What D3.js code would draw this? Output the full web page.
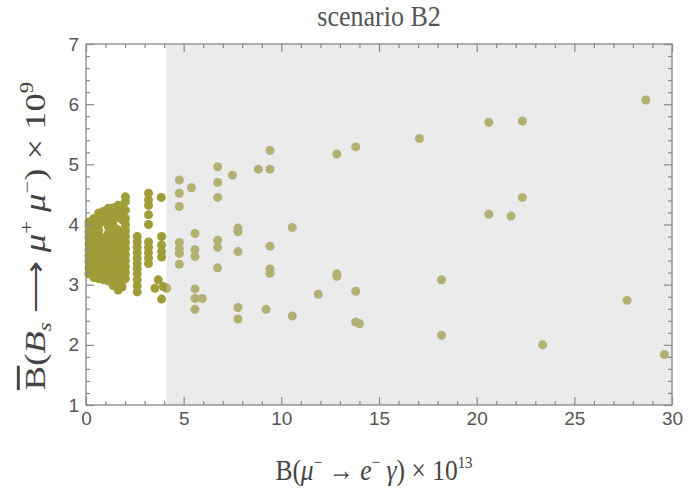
<!DOCTYPE html>
<html>
<head>
<meta charset="utf-8">
<script src="https://cdn.jsdelivr.net/npm/d3@7"></script>
<style>
  body { margin: 0; background: #fff; }
  .tick text { font-family: "Liberation Sans", Arial, sans-serif; font-size: 19px; fill: #555; }
  .tick line { stroke: #888; }
</style>
</head>
<body>
<div id="chart-area"></div>
<script>

/* data: [B(mu -> e gamma) x 1e13, B(Bs -> mu mu) x 1e9] */

// dense blob near the origin, column by column
const clusterPoints = [
  [0.15, 3.18], [0.15, 3.28], [0.15, 3.38], [0.15, 3.48], [0.15, 3.58], [0.15, 3.68], [0.15, 3.78], [0.15, 3.88], [0.15, 3.98], [0.15, 4.04],
  [0.4, 3.12], [0.4, 3.22], [0.4, 3.32], [0.4, 3.42], [0.4, 3.52], [0.4, 3.62], [0.4, 3.72], [0.4, 3.82], [0.4, 3.92], [0.4, 4.02], [0.4, 4.1],
  [0.65, 3.1], [0.65, 3.2], [0.65, 3.3], [0.65, 3.4], [0.65, 3.5], [0.65, 3.6], [0.65, 3.7], [0.65, 3.8], [0.65, 3.9], [0.65, 4.0], [0.65, 4.1], [0.65, 4.19],
  [0.9, 3.08], [0.9, 3.18], [0.9, 3.28], [0.9, 3.38], [0.9, 3.48], [0.9, 3.58], [0.9, 3.68], [0.9, 3.78], [0.9, 4.05], [0.9, 4.15], [0.9, 4.22],
  [1.15, 3.06], [1.15, 3.16], [1.15, 3.26], [1.15, 3.36], [1.15, 3.46], [1.15, 3.56], [1.15, 3.66], [1.15, 3.76], [1.15, 3.86], [1.15, 3.96], [1.15, 4.1], [1.15, 4.2], [1.15, 4.27],
  [1.4, 2.98], [1.4, 3.08], [1.4, 3.18], [1.4, 3.28], [1.4, 3.38], [1.4, 3.48], [1.4, 3.58], [1.4, 3.68], [1.4, 3.78], [1.4, 3.88], [1.4, 3.98], [1.4, 4.08], [1.4, 4.18], [1.4, 4.28],
  [1.65, 2.91], [1.65, 3.01], [1.65, 3.11], [1.65, 3.21], [1.65, 3.31], [1.65, 3.41], [1.65, 3.51], [1.65, 3.61], [1.65, 3.71], [1.65, 3.81], [1.65, 3.91], [1.65, 4.12], [1.65, 4.22], [1.65, 4.32],
  [1.85, 2.96], [1.85, 3.06], [1.85, 3.16], [1.85, 3.26], [1.85, 3.36], [1.85, 3.46], [1.85, 3.56], [1.85, 3.66], [1.85, 3.76], [1.85, 3.86], [1.85, 4.08], [1.85, 4.18], [1.85, 4.26],
  [2.02, 3.1], [2.02, 3.2], [2.02, 3.3], [2.02, 3.4], [2.02, 3.5], [2.02, 3.6], [2.02, 3.7], [2.02, 3.8], [2.02, 3.9], [2.02, 4.0], [2.02, 4.1], [2.02, 4.24], [2.02, 4.38], [2.02, 4.46]
];

// separate columns between x = 2.5 and the shaded region
const columnPoints = [
  [2.62, 3.80], [2.62, 3.71], [2.62, 3.62], [2.62, 3.53], [2.62, 3.44], [2.62, 3.35],
  [2.62, 3.27], [2.62, 3.18], [2.62, 3.08], [2.62, 2.98], [2.62, 2.88],
  [3.2, 4.52], [3.2, 4.41], [3.2, 4.32], [3.2, 4.16], [3.2, 4.0],
  [3.2, 3.71], [3.2, 3.62], [3.2, 3.53], [3.2, 3.44], [3.2, 3.35],
  [3.85, 4.45], [3.87, 3.80], [3.87, 3.66], [3.87, 3.55], [3.87, 3.46],
  [3.7, 3.08], [3.96, 2.97], [4.13, 2.94], [3.53, 2.94], [3.87, 2.76]
];

// scattered points in the shaded region
const outerPoints = [
  [4.78, 4.74], [4.78, 4.52], [4.78, 4.30], [5.4, 4.61],
  [6.74, 4.96], [6.74, 4.70], [6.74, 4.45], [7.5, 4.82],
  [8.82, 4.92], [9.42, 4.92], [9.42, 5.23],
  [4.78, 3.70], [4.78, 3.60], [4.78, 3.52], [4.78, 3.34],
  [5.58, 3.85], [5.58, 3.58], [5.58, 3.47],
  [6.74, 3.74], [6.74, 3.62], [6.74, 3.28],
  [7.78, 3.94], [7.78, 3.88], [7.78, 3.55],
  [9.42, 3.64], [9.42, 3.26], [9.42, 3.19], [10.56, 3.95],
  [5.58, 2.93], [5.58, 2.77], [5.95, 2.77], [5.58, 2.59],
  [7.78, 2.62], [7.78, 2.43], [9.22, 2.59], [10.56, 2.48],
  [11.89, 2.84], [12.84, 3.18], [12.84, 3.14], [13.81, 2.89],
  [13.81, 2.38], [14.0, 2.35], [12.84, 5.17], [13.81, 5.29], [17.07, 5.43],
  [18.2, 3.08], [18.2, 2.16],
  [20.62, 5.70], [22.34, 5.72], [22.34, 4.45], [20.62, 4.17], [21.76, 4.14],
  [28.66, 6.07], [27.7, 2.74], [23.38, 2.00], [29.61, 1.84]
];

const shadeFrom = 4.12;           // left edge of the grey band
const xTicks = [0, 5, 10, 15, 20, 25, 30];
const yTicks = [1, 2, 3, 4, 5, 6, 7];

/* graphical constants */
const margin = { left: 86, right: 24, top: 44, bottom: 86 };
const W = 696, H = 491;
const width = W - margin.left - margin.right;
const height = H - margin.top - margin.bottom;

const svg = d3.select("#chart-area")
    .append("svg")
    .attr("width", W)
    .attr("height", H);

const g = svg.append("g")
    .attr("transform", "translate(" + margin.left + ", " + margin.top + ")");

const x = d3.scaleLinear().domain([0, 30]).range([0, width]);
const y = d3.scaleLinear().domain([1, 7]).range([height, 0]);

// points
const allPoints = clusterPoints.concat(columnPoints, outerPoints);
g.selectAll("circle.pt")
    .data(allPoints)
    .enter()
    .append("circle")
    .attr("class", "pt")
    .attr("cx", d => x(d[0]))
    .attr("cy", d => y(d[1]))
    .attr("r", 4.5)
    .attr("fill", "#a09d38");

// translucent grey band drawn over the points (makes them paler)
g.append("rect")
    .attr("x", x(shadeFrom))
    .attr("y", 0)
    .attr("width", x(30) - x(shadeFrom))
    .attr("height", height)
    .attr("fill", "#cccccc")
    .attr("fill-opacity", 0.4);

// frame
g.append("rect")
    .attr("width", width)
    .attr("height", height)
    .attr("fill", "none")
    .attr("stroke", "#888")
    .attr("stroke-width", 1.3);

// axes: major + minor ticks, pointing inward, on all four sides
const minorX = d3.range(0, 31, 1).filter(v => v % 5 !== 0);
const minorY = d3.range(1, 7.001, 0.2).filter(v => Math.abs(v - Math.round(v)) > 1e-6);

function addAxis(axisFn, scale, major, minor, transform, labels) {
    const a = g.append("g").attr("transform", transform);
    a.call(axisFn(scale).tickValues(minor).tickSizeInner(-4).tickSizeOuter(0).tickFormat(""));
    const b = g.append("g").attr("transform", transform);
    b.call(axisFn(scale).tickValues(major).tickSizeInner(-8).tickSizeOuter(0).tickPadding(7)
        .tickFormat(labels ? d3.format("d") : ""));
    a.select(".domain").remove();
    b.select(".domain").remove();
    return b;
}

addAxis(d3.axisBottom, x, xTicks, minorX, "translate(0," + height + ")", true);
addAxis(d3.axisTop, x, xTicks, minorX, "translate(0,0)", false);
addAxis(d3.axisLeft, y, yTicks, minorY, "translate(0,0)", true);
addAxis(d3.axisRight, y, yTicks, minorY, "translate(" + width + ",0)", false);

g.selectAll(".tick line").attr("stroke", "#888").attr("stroke-width", 1.2);

// title
svg.append("text")
    .attr("transform", "translate(379,26) scale(1,1.1)")
    .attr("text-anchor", "middle")
    .attr("font-family", "Liberation Serif, Times New Roman, serif")
    .attr("font-size", 26)
    .attr("fill", "#555")
    .text("scenario B2");

// x label: B(mu- -> e- gamma) x 10^13  (glyphs are taller than wide in the original)
const xl = svg.append("text")
    .attr("transform", "translate(374,480) scale(1,1.18)")
    .attr("text-anchor", "middle")
    .attr("font-family", "Liberation Serif, Times New Roman, serif")
    .attr("font-size", 25.5)
    .attr("fill", "#444");
xl.append("tspan").text("B(");
xl.append("tspan").attr("font-style", "italic").text("μ");
xl.append("tspan").attr("dy", -10).attr("font-size", 15).text("−");
xl.append("tspan").attr("dy", 10).text(" → ");
xl.append("tspan").attr("font-style", "italic").text("e");
xl.append("tspan").attr("dy", -10).attr("font-size", 15).text("−");
xl.append("tspan").attr("dy", 10).attr("font-style", "italic").text(" γ");
xl.append("tspan").text(") × 10");
xl.append("tspan").attr("dy", -10).attr("font-size", 15).text("13");

// y label: Bbar(B_s -> mu+ mu-) x 10^9  (stretched along the reading direction)
const yl = svg.append("text")
    .attr("transform", "translate(45,236) rotate(-90) scale(1.26,1)")
    .attr("text-anchor", "middle")
    .attr("font-family", "Liberation Serif, Times New Roman, serif")
    .attr("font-size", 29)
    .attr("fill", "#444");
yl.append("tspan").style("text-decoration", "overline").text("B");
yl.append("tspan").text("(");
yl.append("tspan").attr("font-style", "italic").text("B");
yl.append("tspan").attr("dy", 6).attr("font-size", 18).attr("font-style", "italic").text("s");
yl.append("tspan").attr("dy", -6).text(" ⟶ ");
yl.append("tspan").attr("font-style", "italic").text("μ");
yl.append("tspan").attr("dy", -12).attr("font-size", 18).text("+");
yl.append("tspan").attr("dy", 12).attr("font-style", "italic").text(" μ");
yl.append("tspan").attr("dy", -12).attr("font-size", 18).text("−");
yl.append("tspan").attr("dy", 12).text(") × 10");
yl.append("tspan").attr("dy", -12).attr("font-size", 18).text("9");

</script>
</body>
</html>
